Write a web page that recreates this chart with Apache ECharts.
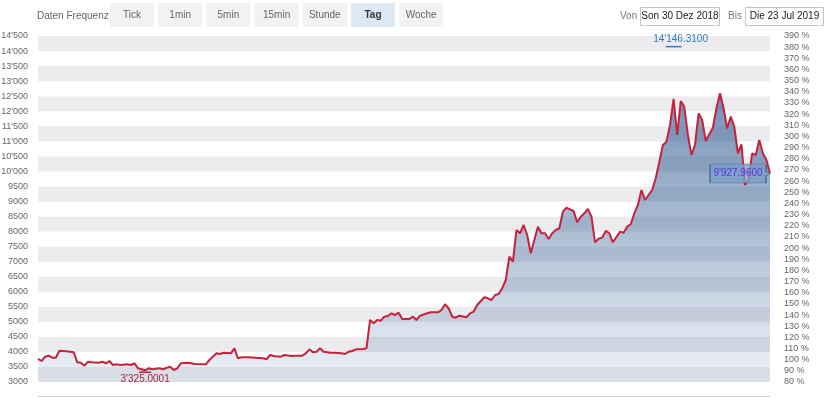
<!DOCTYPE html>
<html><head><meta charset="utf-8">
<script src="https://cdn.jsdelivr.net/npm/echarts@6/dist/echarts.min.js"></script>
<style>html,body{margin:0;padding:0;background:#fff}#c{width:830px;height:409px}</style>
</head><body><div id="c"></div>
<script>
// ---- data ----
const dates = [
  '2018-12-30','2018-12-31',
  '2019-01-01','2019-01-02','2019-01-03','2019-01-04','2019-01-05','2019-01-07','2019-01-08','2019-01-09','2019-01-10','2019-01-11','2019-01-12','2019-01-13','2019-01-14','2019-01-16','2019-01-17','2019-01-18','2019-01-19','2019-01-20','2019-01-21','2019-01-22','2019-01-24','2019-01-25','2019-01-26','2019-01-27','2019-01-29','2019-01-30','2019-01-31',
  '2019-02-02','2019-02-03','2019-02-05','2019-02-06','2019-02-07','2019-02-08','2019-02-10','2019-02-12','2019-02-14','2019-02-15','2019-02-16','2019-02-18','2019-02-19','2019-02-20','2019-02-22','2019-02-23','2019-02-24','2019-02-25','2019-02-27',
  '2019-03-01','2019-03-03','2019-03-04','2019-03-05','2019-03-06','2019-03-08','2019-03-09','2019-03-11','2019-03-12','2019-03-14','2019-03-15','2019-03-16','2019-03-17','2019-03-18','2019-03-19','2019-03-20','2019-03-22','2019-03-23','2019-03-25','2019-03-26','2019-03-27','2019-03-28','2019-03-29','2019-03-31',
  '2019-04-01','2019-04-02','2019-04-03','2019-04-04','2019-04-05','2019-04-06','2019-04-07','2019-04-08','2019-04-09','2019-04-10','2019-04-11','2019-04-12','2019-04-13','2019-04-14','2019-04-15','2019-04-16','2019-04-18','2019-04-19','2019-04-21','2019-04-22','2019-04-23','2019-04-24','2019-04-25','2019-04-26','2019-04-27','2019-04-29','2019-04-30',
  '2019-05-01','2019-05-02','2019-05-04','2019-05-05','2019-05-06','2019-05-07','2019-05-08','2019-05-09','2019-05-10','2019-05-11','2019-05-12','2019-05-13','2019-05-14','2019-05-15','2019-05-16','2019-05-17','2019-05-18','2019-05-19','2019-05-20','2019-05-21','2019-05-22','2019-05-23','2019-05-24','2019-05-25','2019-05-26','2019-05-27','2019-05-28','2019-05-29','2019-05-30','2019-05-31',
  '2019-06-01','2019-06-02','2019-06-03','2019-06-04','2019-06-05','2019-06-06','2019-06-07','2019-06-08','2019-06-09','2019-06-11','2019-06-12','2019-06-13','2019-06-14','2019-06-15','2019-06-16','2019-06-17','2019-06-18','2019-06-20','2019-06-21','2019-06-22','2019-06-23','2019-06-24','2019-06-25','2019-06-26','2019-06-27','2019-06-28','2019-06-29','2019-06-30',
  '2019-07-01','2019-07-02','2019-07-03','2019-07-04','2019-07-05','2019-07-06','2019-07-07','2019-07-08','2019-07-09','2019-07-10','2019-07-11','2019-07-12','2019-07-13','2019-07-14','2019-07-15','2019-07-16','2019-07-17','2019-07-18','2019-07-19','2019-07-20','2019-07-21','2019-07-22','2019-07-23'
];
const closes = [
  3765,3698,
  3841,3874,3808,3808,4040,4020,4008,3987,3655,3641,3542,3675,3655,3641,3675,3622,3698,3565,3588,3565,3588,3565,3622,3455,3390,3455,3422,
  3455,3422,3509,3399,3455,3622,3641,3598,3588,3588,3731,3954,3931,3974,3954,4120,3788,3821,3821,
  3808,3788,3755,3897,3864,3841,3897,3864,3874,3874,3954,4087,3987,4008,4120,4008,3974,3974,3954,3931,4008,4030,4087,4097,
  4120,5061,4951,5061,5038,5171,5194,5283,5227,5304,5094,5094,5094,5171,5061,5204,5283,5316,5316,5393,5583,5450,5171,5138,5204,5150,5283,
  5337,5560,5816,5782,5726,5892,5925,6115,6390,7165,6999,8052,7943,8219,7886,7278,7720,8163,7943,7943,7753,7943,8052,8109,8661,8794,8740,8684,8308,8494,
  8607,8750,8494,7644,7760,7800,8020,7943,7644,7997,7963,8163,8242,8607,8884,9382,9050,9382,9771,10323,10878,10988,11543,12407,11210,12340,12151,11210,
  10545,10878,11931,11709,11011,11233,11453,12098,12597,12098,11432,11820,11487,10602,10901,9548,9714,10602,10545,11044,10602,10379,9927.96
];
const priceAxis = [3000, 14500, 500];   // min, max, step
const pctAxis = [80, 390, 10];          // min, max, step
const highMark = ['2019-06-26', 14146.31];
const lowMark = ['2019-01-29', 3325.0001];
const frequencies = ['Tick','1min','5min','15min','Stunde','Tag','Woche'];
const activeFrequency = 'Tag';
const rangeFrom = 'Son 30 Dez 2018';
const rangeTo = 'Die 23 Jul 2019';

function fmtNum(v, dec) {
  const s = Number(v).toFixed(dec);
  const parts = s.split('.');
  const ip = parts[0].replace(/\B(?=(\d{3})+(?!\d))/g, "'");
  return parts[1] ? ip + '.' + parts[1] : ip;
}

const lastIdx = closes.length - 1;
const font = 'Liberation Sans, Arial, Helvetica, sans-serif';

// top controls
const graphics = [];
graphics.push({type:'text', left:37, top:11, style:{text:'Daten Frequenz', fill:'#666', font:'10px ' + font}});
frequencies.forEach(function(f, i){
  const x = 110 + i * 48.2;
  const active = f === activeFrequency;
  graphics.push({type:'rect', shape:{x:x, y:3, width:44, height:24}, style:{fill: active ? '#dce8f5' : '#f2f2f3'}});
  graphics.push({type:'text', x:x + 22, y:15, style:{text:f, fill: active ? '#333' : '#666', font:(active ? 'bold ' : '') + '10px ' + font, align:'center', verticalAlign:'middle'}});
});
graphics.push({type:'text', x:620, y:16, style:{text:'Von', fill:'#777', font:'10px ' + font, verticalAlign:'middle'}});
graphics.push({type:'rect', shape:{x:640.5, y:7.5, width:79, height:18}, style:{fill:'#fff', stroke:'#c4c4c4', lineWidth:1}});
graphics.push({type:'text', x:680, y:16.5, style:{text:rangeFrom, fill:'#222', font:'10px ' + font, align:'center', verticalAlign:'middle'}});
graphics.push({type:'text', x:728, y:16, style:{text:'Bis', fill:'#777', font:'10px ' + font, verticalAlign:'middle'}});
graphics.push({type:'rect', shape:{x:745.5, y:7.5, width:78, height:18}, style:{fill:'#fff', stroke:'#c4c4c4', lineWidth:1}});
graphics.push({type:'text', x:784.5, y:16.5, style:{text:rangeTo, fill:'#222', font:'10px ' + font, align:'center', verticalAlign:'middle'}});

const chart = echarts.init(document.getElementById('c'), null, {renderer:'canvas'});
chart.setOption({
  animation: false,
  backgroundColor: '#fff',
  textStyle: {fontFamily: font},
  grid: {left:38, right:60, top:36, bottom:27, outerBoundsMode:'none', containLabel:false},
  graphic: graphics,
  xAxis: {
    type:'time', min:dates[0], max:dates[lastIdx],
    offset:14,
    axisLine:{show:true, lineStyle:{color:'#d6d6d6', width:1}},
    axisTick:{show:false}, axisLabel:{show:false}, splitLine:{show:false}
  },
  yAxis: [{
    type:'value', position:'left', min:priceAxis[0], max:priceAxis[1], interval:priceAxis[2],
    axisLine:{show:false}, axisTick:{show:false}, splitLine:{show:false},
    splitArea:{show:true, areaStyle:{color:['#ececef','#ffffff']}},
    axisLabel:{margin:10, color:'#666', fontSize:9, fontFamily:font,
      formatter:function(v){ return v >= 10000 ? fmtNum(v,0) : String(v); }}
  },{
    type:'value', position:'right', min:pctAxis[0], max:pctAxis[1], interval:pctAxis[2],
    axisLine:{show:false}, axisTick:{show:false}, splitLine:{show:false}, splitArea:{show:false},
    axisLabel:{margin:14, color:'#666', fontSize:9, fontFamily:font, formatter:function(v){ return v + ' %'; }}
  }],
  series: [{
    type:'line',
    yAxisIndex:0,
    data: dates.map(function(d, i){ return [d, closes[i]]; }),
    showSymbol:false, symbol:'none',
    lineStyle:{color:'#c5223c', width:2},
    areaStyle:{color:{type:'linear', x:0, y:0, x2:0, y2:1, colorStops:[
      {offset:0, color:'rgba(40,84,142,0.92)'},
      {offset:0.5, color:'rgba(48,92,148,0.55)'},
      {offset:1, color:'rgba(60,100,155,0.12)'}
    ]}},
    markPoint:{
      silent:true, animation:false,
      data:[
        {name:'high', coord:highMark, symbol:'rect', symbolSize:[16,1.5], itemStyle:{color:'#2f7cbf'},
          label:{show:true, position:'top', distance:2, offset:[7,0], formatter:fmtNum(highMark[1],4), color:'#2f7cbf', fontSize:10, fontFamily:font}},
        {name:'low', coord:lowMark, symbol:'rect', symbolSize:[12,1.5], itemStyle:{color:'#a0283e'},
          label:{show:true, position:'bottom', distance:1, formatter:fmtNum(lowMark[1],4), color:'#a0283e', fontSize:10, fontFamily:font}},
        {name:'last', coord:[dates[lastIdx], closes[lastIdx]],
          symbol:'path://M0,0 L56,0 L56,7 L60,9 L56,11 L56,18 L0,18 Z', symbolSize:[60,19], symbolOffset:[-30,0], symbolKeepAspect:false,
          itemStyle:{color:'rgba(120,158,200,0.75)', borderColor:'#56789a', borderWidth:1},
          label:{show:true, position:'inside', offset:[-2,0], formatter:fmtNum(closes[lastIdx],4), color:'#5a2fe0', fontSize:10, fontFamily:font}}
      ]
    }
  }]
});
</script>
</body></html>
